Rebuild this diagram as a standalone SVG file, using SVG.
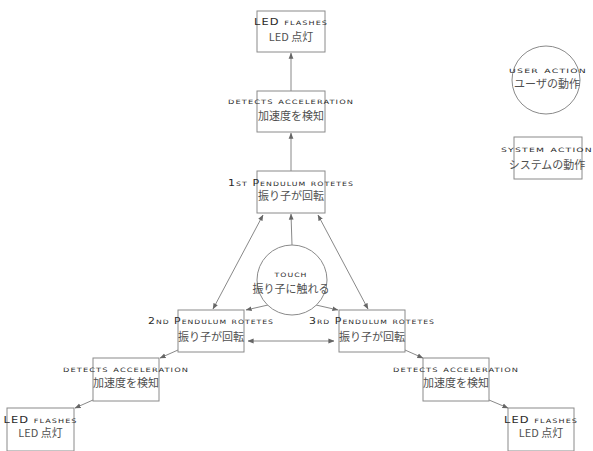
<svg xmlns="http://www.w3.org/2000/svg" width="593" height="451" viewBox="0 0 593 451">
<style>
.box{fill:#fff;stroke:#8a8a8a;stroke-width:1}
.en{font-family:"DejaVu Sans","Liberation Sans",sans-serif;font-size:8.5px;font-variant:small-caps;fill:#2a2a2a;text-anchor:middle;letter-spacing:0.8px}
.jp{font-family:"Noto Sans CJK JP","Noto Sans CJK SC",sans-serif;font-size:11px;fill:#505050;text-anchor:middle}
.ln{stroke:#7a7a7a;stroke-width:0.9;fill:none}
</style>
<defs>
<marker id="ah" viewBox="0 0 8 8" refX="7.5" refY="4" markerWidth="6" markerHeight="6" orient="auto-start-reverse" markerUnits="userSpaceOnUse">
<path d="M0,0.8 L8,4 L0,7.2 z" fill="#666"/>
</marker>
</defs>
<rect width="593" height="451" fill="#fff"/>
<g id="connectors">
<line class="ln" x1="291" y1="91" x2="291" y2="53" marker-end="url(#ah)"/>
<line class="ln" x1="291" y1="171" x2="291" y2="133" marker-end="url(#ah)"/>
<line class="ln" x1="292" y1="245" x2="291" y2="214" marker-end="url(#ah)"/>
<line class="ln" x1="213" y1="309" x2="263" y2="215" marker-start="url(#ah)" marker-end="url(#ah)"/>
<line class="ln" x1="368" y1="309" x2="318" y2="215" marker-start="url(#ah)" marker-end="url(#ah)"/>
<line class="ln" x1="268" y1="305" x2="246" y2="310" marker-end="url(#ah)"/>
<line class="ln" x1="316" y1="305" x2="338" y2="310" marker-end="url(#ah)"/>
<line class="ln" x1="248" y1="341" x2="334" y2="341" marker-start="url(#ah)" marker-end="url(#ah)"/>
<line class="ln" x1="178" y1="350" x2="160" y2="358" marker-end="url(#ah)"/>
<line class="ln" x1="93" y1="400" x2="75" y2="408" marker-end="url(#ah)"/>
<line class="ln" x1="405" y1="350" x2="423" y2="358" marker-end="url(#ah)"/>
<line class="ln" x1="489" y1="400" x2="508" y2="408" marker-end="url(#ah)"/>
</g>
<g id="led-top">
<rect class="box" x="257" y="11" width="68" height="41"/>
<text class="en" x="291" y="25" textLength="74" lengthAdjust="spacingAndGlyphs">LED flashes</text>
<text class="jp" x="291" y="41">LED 点灯</text>
</g>
<g id="detect-top">
<rect class="box" x="257" y="91" width="68" height="41"/>
<text class="en" x="291" y="104" textLength="126" lengthAdjust="spacingAndGlyphs">detects acceleration</text>
<text class="jp" x="291" y="119.5">加速度を検知</text>
</g>
<g id="pendulum1">
<rect class="box" x="257" y="171" width="68" height="42"/>
<text class="en" x="291" y="185.5" textLength="126" lengthAdjust="spacingAndGlyphs">1st Pendulum rotetes</text>
<text class="jp" x="291" y="200">振り子が回転</text>
</g>
<g id="touch">
<circle cx="292" cy="280" r="35" fill="#fff" stroke="#8a8a8a" stroke-width="1"/>
<text class="en" x="291" y="277" textLength="33" lengthAdjust="spacingAndGlyphs">touch</text>
<text class="jp" x="291" y="293">振り子に触れる</text>
</g>
<g id="pendulum2">
<rect class="box" x="178" y="310" width="66" height="42"/>
<text class="en" x="211" y="324" textLength="126" lengthAdjust="spacingAndGlyphs">2nd Pendulum rotetes</text>
<text class="jp" x="211" y="341">振り子が回転</text>
</g>
<g id="pendulum3">
<rect class="box" x="339" y="310" width="66" height="42"/>
<text class="en" x="372" y="324" textLength="126" lengthAdjust="spacingAndGlyphs">3rd Pendulum rotetes</text>
<text class="jp" x="372" y="341">振り子が回転</text>
</g>
<g id="detect-left">
<rect class="box" x="93" y="358" width="66" height="43"/>
<text class="en" x="126" y="372" textLength="126" lengthAdjust="spacingAndGlyphs">detects acceleration</text>
<text class="jp" x="126" y="387">加速度を検知</text>
</g>
<g id="led-left">
<rect class="box" x="7" y="408" width="67" height="43"/>
<text class="en" x="40.5" y="423" textLength="74" lengthAdjust="spacingAndGlyphs">LED flashes</text>
<text class="jp" x="40.5" y="437">LED 点灯</text>
</g>
<g id="detect-right">
<rect class="box" x="423" y="358" width="66" height="43"/>
<text class="en" x="456" y="372" textLength="126" lengthAdjust="spacingAndGlyphs">detects acceleration</text>
<text class="jp" x="456" y="387">加速度を検知</text>
</g>
<g id="led-right">
<rect class="box" x="508" y="408" width="66" height="43"/>
<text class="en" x="541" y="423" textLength="74" lengthAdjust="spacingAndGlyphs">LED flashes</text>
<text class="jp" x="541" y="437">LED 点灯</text>
</g>
<g id="legend-user">
<circle cx="546" cy="80" r="34" fill="#fff" stroke="#8a8a8a" stroke-width="1"/>
<text class="en" x="548" y="73" textLength="78" lengthAdjust="spacingAndGlyphs">user action</text>
<text class="jp" x="547" y="88">ユーザの動作</text>
</g>
<g id="legend-system">
<rect class="box" x="514" y="137" width="68" height="42"/>
<text class="en" x="547" y="152" textLength="92" lengthAdjust="spacingAndGlyphs">system action</text>
<text class="jp" x="547" y="169">システムの動作</text>
</g>
</svg>
